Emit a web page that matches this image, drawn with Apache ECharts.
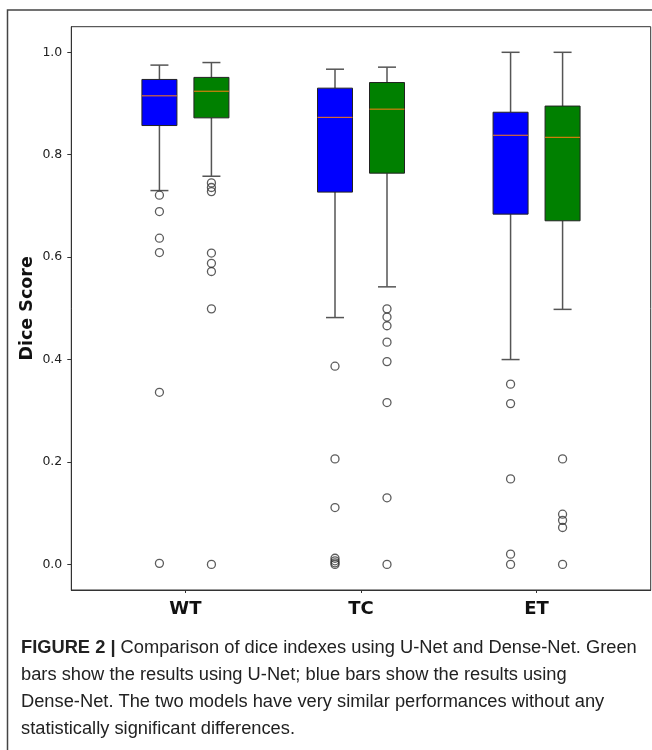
<!DOCTYPE html>
<html>
<head>
<meta charset="utf-8">
<script src="https://cdn.jsdelivr.net/npm/echarts@6/dist/echarts.min.js"></script>
<style>
    html, body { margin: 0; padding: 0; background: #fff; }
    #chart { width: 652px; height: 750px; }
</style>
</head>
<body>
<div id="chart"></div>
<script>
    // groups on the x axis
    var groups = ['WT', 'TC', 'ET'];
    // box stats per group: [min whisker, Q1, median, Q3, max whisker]
    var denseBox = [
        [0.730, 0.857, 0.915, 0.947, 0.975],
        [0.482, 0.727, 0.873, 0.930, 0.967],
        [0.400, 0.684, 0.838, 0.883, 1.000]
    ];
    var unetBox = [
        [0.758, 0.872, 0.924, 0.951, 0.980],
        [0.542, 0.764, 0.889, 0.941, 0.971],
        [0.498, 0.671, 0.834, 0.895, 1.000]
    ];
    // fliers per group
    var denseOutliers = [
        [0.721, 0.689, 0.637, 0.609, 0.336, 0.002],
        [0.387, 0.206, 0.111, 0.012, 0.007, 0.003, 0.0],
        [0.352, 0.314, 0.167, 0.020, 0.0]
    ];
    var unetOutliers = [
        [0.745, 0.736, 0.728, 0.608, 0.588, 0.572, 0.499, 0.0],
        [0.499, 0.483, 0.466, 0.434, 0.396, 0.316, 0.130, 0.0],
        [0.206, 0.098, 0.086, 0.072, 0.0]
    ];
    var yTicks = [0, 0.2, 0.4, 0.6, 0.8, 1.0];
    var xTicks = [1, 2, 3];

    var captionLines = [
        ['FIGURE 2 | ', 'Comparison of dice indexes using U-Net and Dense-Net. Green'],
        ['', 'bars show the results using U-Net; blue bars show the results using'],
        ['', 'Dense-Net. The two models have very similar performances without any'],
        ['', 'statistically significant differences.']
    ];

    function boxData(stats) {
        return stats.map(function (s, i) { return [i + 1].concat(s); });
    }
    function flierData(list) {
        var out = [];
        list.forEach(function (vals, i) {
            vals.forEach(function (v) { out.push([i + 1, v]); });
        });
        return out;
    }

    var BOX_W = 35, CAP_W = 18, SHIFT = 26;

    function renderBox(offset, fill) {
        return function (params, api) {
            var x = api.value(0);
            var pMin = api.coord([x, api.value(1)]);
            var pQ1 = api.coord([x, api.value(2)]);
            var pMed = api.coord([x, api.value(3)]);
            var pQ3 = api.coord([x, api.value(4)]);
            var pMax = api.coord([x, api.value(5)]);
            var cx = pMin[0] + offset;
            var wStyle = {stroke: '#555', lineWidth: 1.5};
            return {
                type: 'group',
                children: [
                    {type: 'line', shape: {x1: cx, y1: pMin[1], x2: cx, y2: pQ1[1]}, style: wStyle},
                    {type: 'line', shape: {x1: cx, y1: pQ3[1], x2: cx, y2: pMax[1]}, style: wStyle},
                    {type: 'line', shape: {x1: cx - CAP_W / 2, y1: pMin[1], x2: cx + CAP_W / 2, y2: pMin[1]}, style: wStyle},
                    {type: 'line', shape: {x1: cx - CAP_W / 2, y1: pMax[1], x2: cx + CAP_W / 2, y2: pMax[1]}, style: wStyle},
                    {
                        type: 'rect',
                        shape: {x: cx - BOX_W / 2, y: pQ3[1], width: BOX_W, height: pQ1[1] - pQ3[1]},
                        style: {fill: fill, stroke: '#222', lineWidth: 1}
                    },
                    {
                        type: 'line',
                        shape: {x1: cx - BOX_W / 2, y1: pMed[1], x2: cx + BOX_W / 2, y2: pMed[1]},
                        style: {stroke: '#ff7f0e', lineWidth: 1}
                    }
                ]
            };
        };
    }

    var chart = echarts.init(document.getElementById('chart'));

    var graphics = [{
        type: 'rect',
        shape: {x: 7.5, y: 10, width: 700, height: 800},
        style: {fill: 'none', stroke: '#444', lineWidth: 1.5},
        silent: true
    }];
    captionLines.forEach(function (ln, i) {
        graphics.push({
            type: 'text',
            left: 21,
            top: 639 + i * 27,
            style: {
                text: (ln[0] ? '{b|' + ln[0] + '}' : '') + '{r|' + ln[1] + '}',
                rich: {
                    b: {fontFamily: 'Liberation Sans', fontSize: 18.3, fontWeight: 'bold', fill: '#222'},
                    r: {fontFamily: 'Liberation Sans', fontSize: 18.3, fill: '#222'}
                }
            }
        });
    });

    var option = {
        animation: false,
        backgroundColor: '#fff',
        grid: {
            left: 71.3, top: 26.7, right: 1.3, bottom: 160,
            show: true, borderColor: '#333', borderWidth: 1, backgroundColor: 'transparent'
        },
        xAxis: {
            type: 'value',
            min: 0.35,
            max: 3.65,
            splitLine: {show: false},
            axisLine: {show: true, onZero: false, lineStyle: {color: '#333', width: 1}},
            axisTick: {show: true, customValues: xTicks, length: 3, lineStyle: {color: '#333'}},
            axisLabel: {
                customValues: xTicks,
                margin: 10,
                fontFamily: 'DejaVu Sans',
                fontWeight: 'bold',
                fontSize: 18,
                color: '#111',
                formatter: function (v) { return groups[Math.round(v) - 1]; }
            }
        },
        yAxis: {
            type: 'value',
            min: -0.05,
            max: 1.05,
            name: 'Dice Score',
            nameLocation: 'middle',
            nameRotate: 90,
            nameGap: 35,
            nameMoveOverlap: false,
            nameTextStyle: {fontFamily: 'DejaVu Sans', fontWeight: 'bold', fontSize: 17.5, color: '#111'},
            splitLine: {show: false},
            axisLine: {show: true, lineStyle: {color: '#333', width: 1}},
            axisTick: {show: true, customValues: yTicks, length: 4, lineStyle: {color: '#333'}},
            axisLabel: {
                customValues: yTicks,
                margin: 9,
                fontFamily: 'DejaVu Sans',
                fontSize: 12.5,
                color: '#222',
                formatter: function (v) { return v.toFixed(1); }
            }
        },
        graphic: graphics,
        series: [
            {
                name: 'Dense-Net',
                type: 'custom',
                renderItem: renderBox(-SHIFT, '#0000ff'),
                encode: {x: 0, y: [1, 2, 3, 4, 5]},
                data: boxData(denseBox),
                z: 2
            },
            {
                name: 'U-Net',
                type: 'custom',
                renderItem: renderBox(SHIFT, '#008000'),
                encode: {x: 0, y: [1, 2, 3, 4, 5]},
                data: boxData(unetBox),
                z: 2
            },
            {
                name: 'Dense-Net outliers',
                type: 'scatter',
                symbol: 'circle',
                symbolSize: 8,
                symbolOffset: [-SHIFT, 0],
                itemStyle: {color: 'rgba(0,0,0,0)', borderColor: '#333', borderWidth: 1.3},
                data: flierData(denseOutliers),
                z: 3
            },
            {
                name: 'U-Net outliers',
                type: 'scatter',
                symbol: 'circle',
                symbolSize: 8,
                symbolOffset: [SHIFT, 0],
                itemStyle: {color: 'rgba(0,0,0,0)', borderColor: '#333', borderWidth: 1.3},
                data: flierData(unetOutliers),
                z: 3
            }
        ]
    };
    chart.setOption(option);
</script>
</body>
</html>
